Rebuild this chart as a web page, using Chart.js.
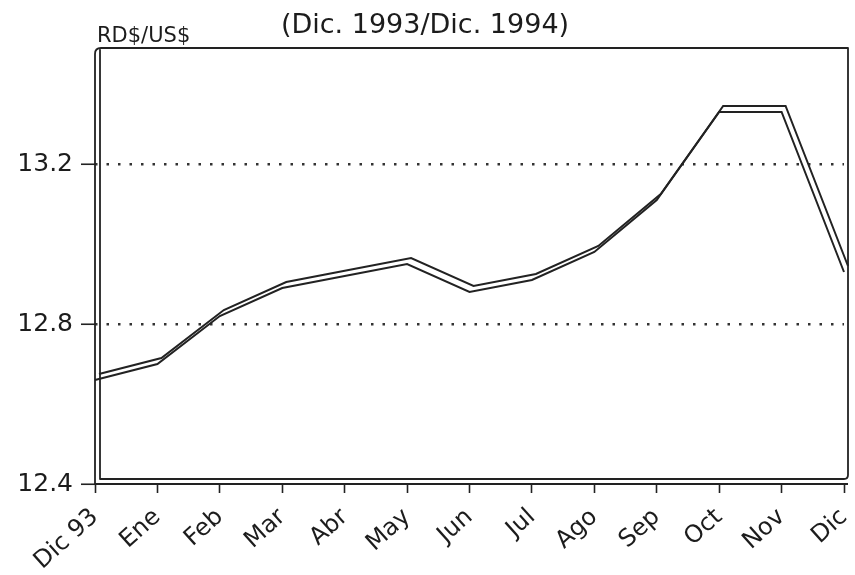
<!DOCTYPE html>
<html>
<head>
<meta charset="utf-8">
<title>RD$/US$ (Dic. 1993/Dic. 1994)</title>
<script src="https://cdn.jsdelivr.net/npm/chart.js@4.4.1/dist/chart.umd.min.js"></script>
<style>
  html, body { margin: 0; padding: 0; background: #fff; }
  #wrap { width: 855px; height: 575px; }
</style>
</head>
<body>
<div id="wrap"><canvas id="tasa" width="855" height="575"></canvas></div>
<script>
// datos
const MESES = ["Dic 93", "Ene", "Feb", "Mar", "Abr", "May", "Jun", "Jul", "Ago", "Sep", "Oct", "Nov", "Dic"];
const TASA = [12.66, 12.70, 12.82, 12.89, 12.92, 12.95, 12.88, 12.91, 12.98, 13.11, 13.33, 13.33, 12.93];
const Y_TICKS = [12.4, 12.8, 13.2];
const TITULO = "(Dic. 1993/Dic. 1994)";
const UNIDAD = "RD$/US$";

const INK = "#222";
const FONT = '"DejaVu Sans", "Liberation Sans", sans-serif';
const DEPTH = 5; // profundidad del efecto 3D

// cinta 3D: la segunda copia de la serie se dibuja desplazada
const cinta = {
  id: "cinta",
  beforeDatasetDraw(chart, args) {
    if (args.index !== 1) return;
    chart.ctx.save();
    chart.ctx.translate(4, -6);
  },
  afterDatasetDraw(chart, args) {
    if (args.index !== 1) return;
    chart.ctx.restore();
  }
};

// marco con pared y piso dobles + textos
const marco = {
  id: "marco",
  beforeDatasetsDraw(chart) {
    const { ctx, chartArea } = chart;
    const { left, right, top, bottom } = chartArea;
    const R = right + 4;
    ctx.save();
    ctx.strokeStyle = INK;
    ctx.lineWidth = 1.8;
    ctx.lineJoin = "round";
    // pared exterior + techo + lado derecho
    ctx.beginPath();
    ctx.moveTo(left, bottom);
    ctx.lineTo(left, top + 6);
    ctx.quadraticCurveTo(left, top, left + 6, top);
    ctx.lineTo(R, top);
    ctx.lineTo(R, bottom - DEPTH - 4);
    ctx.quadraticCurveTo(R, bottom - DEPTH, R - 4, bottom - DEPTH);
    ctx.lineTo(left + DEPTH, bottom - DEPTH);
    ctx.lineTo(left + DEPTH, top);
    ctx.stroke();
    // piso
    ctx.beginPath();
    ctx.moveTo(left, bottom);
    ctx.lineTo(R, bottom);
    ctx.stroke();
    ctx.restore();
  },
  afterDraw(chart) {
    const ctx = chart.ctx;
    ctx.save();
    ctx.fillStyle = "#1c1c1c";
    ctx.textBaseline = "alphabetic";
    ctx.font = "27px " + FONT;
    ctx.textAlign = "center";
    ctx.fillText(TITULO, 425, 33);
    ctx.font = "21px " + FONT;
    ctx.textAlign = "left";
    ctx.fillText(UNIDAD, 97, 42);
    ctx.restore();
  }
};

Chart.defaults.font.family = FONT;
Chart.defaults.color = "#1c1c1c";

const linea = {
  data: TASA,
  borderColor: INK,
  borderWidth: 2,
  pointRadius: 0,
  tension: 0,
  fill: false,
  clip: 10
};

new Chart(document.getElementById("tasa").getContext("2d"), {
  type: "line",
  data: {
    labels: MESES,
    datasets: [ { ...linea }, { ...linea } ]
  },
  options: {
    responsive: false,
    animation: false,
    layout: { padding: { top: 48, right: 11, left: 0, bottom: 0 } },
    plugins: { legend: { display: false }, tooltip: { enabled: false }, title: { display: false } },
    scales: {
      x: {
        offset: false,
        border: { display: false },
        grid: { drawOnChartArea: false, drawTicks: true, tickLength: 9, tickColor: INK, tickWidth: 1.6 },
        ticks: { autoSkip: false, minRotation: 42, maxRotation: 42, padding: 10, font: { size: 24 } },
        afterFit(s) { s.height = 91; s.paddingLeft = 0; s.paddingRight = 0; }
      },
      y: {
        min: 12.4,
        max: 13.49,
        border: { display: false, dash: [2.5, 9] },
        grid: {
          color: (c) => (c.tick && c.tick.value === 12.4 ? "rgba(0,0,0,0)" : "#333"),
          lineWidth: 2.5,
          tickColor: INK,
          tickWidth: 1.6,
          tickLength: 14,
          tickBorderDash: []
        },
        ticks: { padding: 8, font: { size: 25 }, callback: (v) => v.toFixed(1) },
        afterBuildTicks(s) { s.ticks = Y_TICKS.map((v) => ({ value: v })); },
        afterFit(s) { s.width = 95; s.paddingTop = 0; s.paddingBottom = 0; }
      }
    }
  },
  plugins: [cinta, marco]
});
</script>
</body>
</html>
